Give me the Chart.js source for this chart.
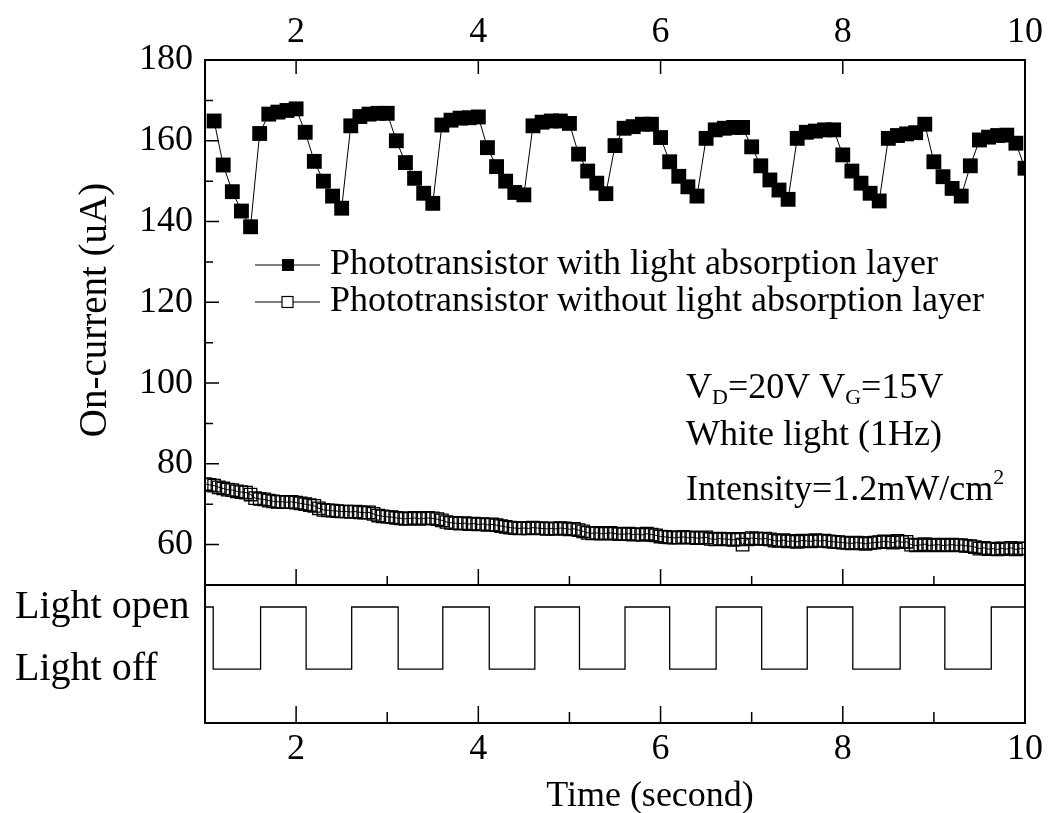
<!DOCTYPE html>
<html>
<head>
<meta charset="utf-8">
<script src="https://cdn.jsdelivr.net/npm/chart.js@4.4.1/dist/chart.umd.min.js"></script>
<style>
  html, body { margin: 0; padding: 0; background: #fff; }
  #wrap { position: relative; width: 1049px; height: 813px; }
  #wrap canvas { position: absolute; left: 0; top: 0; }
</style>
</head>
<body>
<div id="wrap">
  <canvas id="current" width="1049" height="813"></canvas>
  <canvas id="light" width="1049" height="813"></canvas>
</div>
<script>
// --- data ---
// on-current with absorption layer, sampled every 0.1 s from 1.1 s
const withLayerStart = 1.1;
const withLayerStep = 0.1;
const withLayerCurrent = [
  164.9, 154.0, 147.4, 142.6, 138.7, 161.8, 166.6, 167.1, 167.5, 167.9,
  162.1, 154.9, 150.0, 146.3, 143.3, 163.7, 166.0, 166.6, 166.8, 166.8,
  160.0, 154.6, 150.7, 147.0, 144.5, 163.9, 165.1, 165.6, 165.7, 165.9,
  158.3, 153.6, 150.0, 147.2, 146.6, 163.7, 164.6, 164.9, 164.9, 164.3,
  156.7, 152.5, 149.5, 146.9, 158.8, 163.1, 163.5, 164.1, 164.1, 160.8,
  154.8, 151.2, 148.6, 146.3, 160.6, 162.7, 163.1, 163.3, 163.3, 158.5,
  153.8, 150.3, 147.8, 145.5, 160.6, 162.1, 162.4, 162.7, 162.7, 156.5,
  152.5, 149.5, 147.0, 145.1, 160.6, 161.3, 161.7, 162.0, 164.1, 154.8,
  151.1, 148.2, 146.3, 153.8, 160.2, 160.9, 161.3, 161.4, 159.4, 153.2
];

// on-current without absorption layer, sampled every 0.05 s from 1.0 s
const withoutLayerStart = 1.0;
const withoutLayerStep = 0.05;
const withoutLayerCurrent = [
  75.0, 74.8, 74.6, 74.2,
  73.9, 73.6, 73.5, 73.2, 73.0, 72.9,
  72.4, 71.5, 71.3, 71.2,
  70.9, 70.7, 70.6, 70.6, 70.5, 70.6, 70.4, 70.2,
  70.0, 69.8, 69.6, 69.0,
  68.6, 68.5, 68.4, 68.3, 68.2,
  68.2, 68.1, 68.2, 68.0, 67.9, 68.0, 67.6, 67.2,
  67.0, 66.9, 66.8, 66.6, 66.5, 66.4,
  66.5, 66.6, 66.4, 66.5, 66.6, 66.5, 66.3, 66.0, 65.6,
  65.4, 65.3, 65.2, 65.3, 65.1, 65.2, 65.0, 65.1,
  64.9, 65.0, 64.8, 64.6, 64.4, 64.2, 64.1,
  64.0, 64.1, 64.0, 64.2, 64.1, 64.0, 63.9,
  64.0, 63.9, 64.1, 64.0, 63.8, 63.9, 63.6, 63.3,
  62.9, 62.8, 62.9, 62.7, 62.8, 62.9, 62.7, 62.6,
  62.6, 62.7, 62.5, 62.6, 62.4, 62.7, 62.5, 62.3,
  62.0, 61.9, 61.8, 61.7, 61.8, 61.9, 61.7, 61.8, 61.6, 61.7, 61.8,
  61.4, 61.3, 61.5, 61.4, 61.3, 61.2, 61.4,
  60.0,
  61.3, 61.6, 61.5, 61.4, 61.5, 61.3,
  61.0, 60.9, 61.1, 60.8, 60.9, 60.7, 61.0, 60.9, 60.8, 61.1, 60.9, 61.0, 60.8, 60.7, 60.6, 60.5,
  60.4, 60.3, 60.5, 60.4, 60.2, 60.4, 60.5,
  60.6, 60.8, 60.7, 60.5, 60.9, 60.6, 60.7,
  60.0, 59.8, 59.9, 60.1, 59.8, 59.9, 60.0, 59.8,
  59.9, 60.0, 59.8, 59.9, 59.7, 59.6, 59.4,
  59.0, 59.2, 58.9, 59.0, 58.8, 59.1, 58.9, 59.2, 58.8, 59.0, 59.1
];

// light switching (1 = open, 0 = off), value holds until next time
const lightTimes = [1.0, 1.09, 1.61, 2.11, 2.61, 3.12, 3.61, 4.12, 4.62, 5.11, 5.61,
                    6.10, 6.61, 7.11, 7.61, 8.11, 8.63, 9.12, 9.63, 10.0];
const lightState = [1, 0, 1, 0, 1, 0, 1, 0, 1, 0, 1, 0, 1, 0, 1, 0, 1, 0, 1, 1];
const lightLevels = [0, 1];
const lightLabels = ['Light off', 'Light open'];

// ticks
const xMajorTicks = [2, 4, 6, 8, 10];
const xMinorTicks = [1, 3, 5, 7, 9];
const yMajorTicks = [60, 80, 100, 120, 140, 160, 180];
const yMinorTicks = [70, 90, 110, 130, 150, 170];

const seriesLabels = [
  'Phototransistor with light absorption layer',
  'Phototransistor without light absorption layer'
];

const FONT = "'Liberation Serif', 'Times New Roman', serif";
Chart.defaults.font.family = FONT;
Chart.defaults.font.size = 36;
Chart.defaults.color = '#000';

function toPoints(values, start, step) {
  return values.map((v, i) => ({ x: +(start + i * step).toFixed(2), y: v }));
}

// frame + inward tick marks
function frameTicks(specs) {
  return {
    id: 'frameTicks',
    afterDatasetsDraw(chart) {
      const { ctx, chartArea: a, scales } = chart;
      ctx.save();
      ctx.strokeStyle = '#000';
      ctx.lineWidth = 2;
      ctx.strokeRect(a.left, a.top, a.right - a.left, a.bottom - a.top);
      ctx.lineWidth = 1.5;
      ctx.beginPath();
      specs.forEach(s => {
        s.values.forEach(v => {
          if (s.side === 'left') {
            const p = scales.y.getPixelForValue(v);
            ctx.moveTo(a.left, p); ctx.lineTo(a.left + s.len, p);
          } else {
            const p = scales.x.getPixelForValue(v);
            if (s.side === 'top') { ctx.moveTo(p, a.top); ctx.lineTo(p, a.top + s.len); }
            else { ctx.moveTo(p, a.bottom); ctx.lineTo(p, a.bottom - s.len); }
          }
        });
      });
      ctx.stroke();
      ctx.restore();
    }
  };
}

function drawRuns(ctx, x, y, runs) {
  runs.forEach(r => {
    ctx.font = (r.size || 36) + 'px ' + FONT;
    ctx.fillText(r.t, x, y + (r.dy || 0));
    x += ctx.measureText(r.t).width;
  });
}

const notesPlugin = {
  id: 'notes',
  afterDraw(chart) {
    const ctx = chart.ctx;
    ctx.save();
    ctx.fillStyle = '#000';
    ctx.strokeStyle = '#000';
    // legend
    const rows = [265, 302];
    chart.data.datasets.forEach((ds, i) => {
      const y = rows[i];
      ctx.lineWidth = 1;
      ctx.beginPath();
      ctx.moveTo(255, y); ctx.lineTo(320, y);
      ctx.stroke();
      if (i === 0) {
        ctx.fillRect(282, y - 6, 12, 12);
      } else {
        ctx.fillStyle = '#fff';
        ctx.fillRect(282, y - 5.5, 11, 11);
        ctx.fillStyle = '#000';
        ctx.lineWidth = 1.2;
        ctx.strokeRect(282, y - 5.5, 11, 11);
      }
      ctx.font = '36px ' + FONT;
      ctx.textBaseline = 'middle';
      ctx.fillText(ds.label, 330, y);
    });
    // annotations
    ctx.textBaseline = 'alphabetic';
    drawRuns(ctx, 686, 398, [
      { t: 'V' }, { t: 'D', size: 22, dy: 6 }, { t: '=20V V' }, { t: 'G', size: 22, dy: 6 }, { t: '=15V' }
    ]);
    drawRuns(ctx, 686, 445, [{ t: 'White light (1Hz)' }]);
    drawRuns(ctx, 686, 500, [{ t: 'Intensity=1.2mW/cm' }, { t: '2', size: 22, dy: -16 }]);
    // y axis title
    ctx.font = '39px ' + FONT;
    ctx.textAlign = 'center';
    ctx.textBaseline = 'middle';
    ctx.translate(96, 310);
    ctx.rotate(-Math.PI / 2);
    ctx.fillText('On-current (uA)', 0, 0);
    ctx.restore();
  }
};

const xTitlePlugin = {
  id: 'xTitle',
  afterDraw(chart) {
    const ctx = chart.ctx;
    ctx.save();
    ctx.fillStyle = '#000';
    ctx.font = '36px ' + FONT;
    ctx.textAlign = 'center';
    ctx.textBaseline = 'alphabetic';
    ctx.fillText('Time (second)', 650, 806);
    ctx.restore();
  }
};

const noPad = s => { s.paddingLeft = 0; s.paddingRight = 0; s.paddingTop = 0; s.paddingBottom = 0; };

// upper panel: on-current
new Chart(document.getElementById('current'), {
  type: 'line',
  data: {
    datasets: [
      {
        label: seriesLabels[0],
        data: toPoints(withLayerCurrent, withLayerStart, withLayerStep),
        borderColor: '#000',
        borderWidth: 1,
        pointStyle: 'rect',
        pointRadius: 10.5,
        pointBorderWidth: 0,
        pointBackgroundColor: '#000',
        clip: 0
      },
      {
        label: seriesLabels[1],
        data: toPoints(withoutLayerCurrent, withoutLayerStart, withoutLayerStep),
        borderColor: '#000',
        borderWidth: 1,
        pointStyle: 'rect',
        pointRadius: 8.8,
        pointBorderWidth: 1.3,
        pointBorderColor: '#000',
        pointBackgroundColor: 'rgba(255,255,255,0)',
        clip: 0
      }
    ]
  },
  options: {
    responsive: false,
    animation: false,
    devicePixelRatio: 1,
    events: [],
    layout: { padding: { left: 0, top: 0, right: 24, bottom: 228 } },
    plugins: { legend: { display: false }, tooltip: { enabled: false } },
    scales: {
      x: {
        type: 'linear', position: 'top', min: 1, max: 10,
        grid: { display: false, drawTicks: false },
        border: { display: false },
        afterBuildTicks: s => { s.ticks = xMajorTicks.map(v => ({ value: v })); },
        afterFit: s => { s.height = 60; noPad(s); },
        ticks: { padding: 6, maxRotation: 0, autoSkip: false }
      },
      y: {
        min: 50, max: 180,
        grid: { display: false, drawTicks: false },
        border: { display: false },
        afterBuildTicks: s => { s.ticks = yMajorTicks.map(v => ({ value: v })); },
        afterFit: s => { s.width = 205; noPad(s); },
        ticks: { padding: 12, autoSkip: false }
      }
    }
  },
  plugins: [
    frameTicks([
      { side: 'left', values: yMajorTicks, len: 14 },
      { side: 'left', values: yMinorTicks, len: 8 },
      { side: 'bottom', values: xMajorTicks, len: 16 },
      { side: 'bottom', values: xMinorTicks, len: 9 },
      { side: 'top', values: xMajorTicks, len: 14 }
    ]),
    notesPlugin
  ]
});

// lower panel: light on/off
new Chart(document.getElementById('light'), {
  type: 'line',
  data: {
    datasets: [{
      label: 'Light',
      data: lightTimes.map((t, i) => ({ x: t, y: lightState[i] })),
      stepped: true,
      borderColor: '#000',
      borderWidth: 1.3,
      pointRadius: 0,
      clip: 0
    }]
  },
  options: {
    responsive: false,
    animation: false,
    devicePixelRatio: 1,
    events: [],
    layout: { padding: { left: 15, top: 585, right: 24, bottom: 0 } },
    plugins: { legend: { display: false }, tooltip: { enabled: false } },
    scales: {
      x: {
        type: 'linear', position: 'bottom', min: 1, max: 10,
        grid: { display: false, drawTicks: false },
        border: { display: false },
        afterBuildTicks: s => { s.ticks = xMajorTicks.map(v => ({ value: v })); },
        afterFit: s => { s.height = 90; noPad(s); },
        ticks: { padding: 5, maxRotation: 0, autoSkip: false }
      },
      y: {
        min: -0.87, max: 1.355,
        grid: { display: false, drawTicks: false },
        border: { display: false },
        afterBuildTicks: s => { s.ticks = lightLevels.map(v => ({ value: v })); },
        afterFit: s => { s.width = 190; noPad(s); },
        ticks: {
          crossAlign: 'far', autoSkip: false,
          font: { size: 40 },
          callback: v => lightLabels[lightLevels.indexOf(v)]
        }
      }
    }
  },
  plugins: [
    frameTicks([
      { side: 'bottom', values: xMajorTicks, len: 17 },
      { side: 'bottom', values: xMinorTicks, len: 11 }
    ]),
    xTitlePlugin
  ]
});
</script>
</body>
</html>
